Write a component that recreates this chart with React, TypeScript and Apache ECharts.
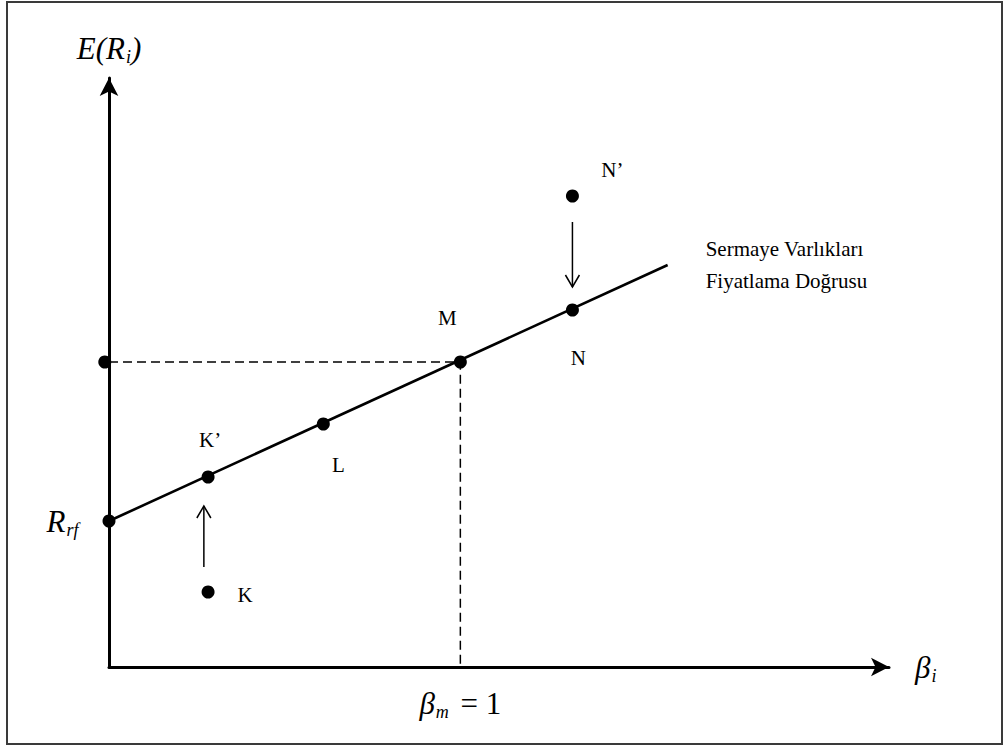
import React, { useEffect, useRef } from "react";
import * as echarts from "echarts";

// Points of the Security Market Line diagram (x = beta, y = expected return)
const rfPoint = [0, 1.46];
const smlEnd = [1.59, 4.02];
const onLinePoints = [
  { name: "K’", value: [0.282, 1.9] },
  { name: "L", value: [0.61, 2.43] },
  { name: "M", value: [1, 3.05] },
  { name: "N", value: [1.319, 3.57] },
];
const offLinePoints = [
  { name: "K", value: [0.282, 0.75] },
  { name: "N’", value: [1.319, 4.71] },
];
const guideDot = [-0.012, 3.05];
const guidePath = [
  [0, 3.05],
  [1, 3.05],
  [1, 0],
];
// arrows: [x0, y0, x1, y1]
const moveArrows = [
  [0.27, 1.0, 0.27, 1.61],
  [1.319, 4.45, 1.319, 3.8],
];
const smlLabel = "Sermaye Varlıkları\nFiyatlama Doğrusu";
const betaMarket = 1;

const SERIF = "'Liberation Serif', 'Times New Roman', serif";

const labelOffsets: Record<string, number[]> = {
  "K’": [2, -37],
  L: [15, 41],
  M: [-13, -44],
  N: [6, 48],
  K: [37, 3],
  "N’": [40, -26],
};

export default function App() {
  const ref = useRef<HTMLDivElement>(null);
  useEffect(() => {
    if (!ref.current) return;
    const chart = echarts.init(ref.current, null, { renderer: "svg" });
    const ptLabel = (name: string) => ({
      show: true,
      formatter: name,
      position: "inside" as const,
      offset: labelOffsets[name],
      color: "#000",
      fontFamily: SERIF,
      fontSize: 21,
    });
    const italicMain = { fontFamily: SERIF, fontStyle: "italic", fontSize: 31, color: "#000", lineHeight: 36 };
    const italicSub = {
      fontFamily: SERIF,
      fontStyle: "italic",
      fontSize: 18,
      color: "#000",
      verticalAlign: "bottom",
      lineHeight: 36,
      padding: [10, 0, 0, 1],
    };
    chart.setOption({
      animation: false,
      backgroundColor: "#fff",
      grid: { left: 109, top: 78, width: 780, height: 589, containLabel: false },
      xAxis: {
        type: "value",
        min: 0,
        max: 2.22,
        interval: 1,
        splitLine: { show: false },
        axisTick: { show: false },
        axisLine: {
          show: true,
          onZero: false,
          lineStyle: { color: "#000", width: 3 },
          symbol: ["none", "arrow"],
          symbolSize: [14, 18],
        },
        axisLabel: {
          show: true,
          margin: 18,
          formatter: (v: number) => (v === betaMarket ? "{b|β}{s|m}{e| = 1}" : ""),
          rich: {
            b: italicMain,
            s: italicSub,
            e: { fontFamily: SERIF, fontSize: 31, color: "#000", lineHeight: 36, padding: [0, 0, 0, 4] },
          },
        },
        name: "{b|β}{s|i}",
        nameLocation: "end",
        nameGap: 26,
        nameTextStyle: { rich: { b: italicMain, s: italicSub } },
      },
      yAxis: {
        type: "value",
        min: 0,
        max: 5.89,
        splitLine: { show: false },
        axisTick: { show: false },
        axisLabel: { show: false },
        axisLine: {
          show: true,
          onZero: false,
          lineStyle: { color: "#000", width: 3 },
          symbol: ["none", "arrow"],
          symbolSize: [14, 18],
        },
        name: "{b|E}{b|(}{b|R}{s|i}{b|)}",
        nameLocation: "end",
        nameGap: 12,
        nameTextStyle: { rich: { b: italicMain, s: italicSub } },
      },
      graphic: [
        {
          type: "rect",
          shape: { x: 7, y: 2, width: 995, height: 742 },
          style: { fill: "none", stroke: "#3a3a3a", lineWidth: 2 },
          silent: true,
        },
      ],
      series: [
        {
          type: "line",
          data: guidePath,
          symbol: "none",
          lineStyle: { color: "#000", width: 1.5, type: [9, 5], opacity: 1 },
          z: 1,
        },
        {
          type: "line",
          data: [rfPoint, smlEnd],
          symbol: "none",
          lineStyle: { color: "#000", width: 2.6, opacity: 1 },
          endLabel: {
            show: true,
            formatter: smlLabel,
            distance: 38,
            color: "#000",
            fontFamily: SERIF,
            fontSize: 21,
            lineHeight: 32,
            align: "left",
          },
          z: 2,
        },
        {
          type: "scatter",
          clip: false,
          symbolSize: 13,
          itemStyle: { color: "#000", opacity: 1 },
          data: [
            {
              value: rfPoint,
              label: {
                show: true,
                position: "left",
                distance: 24,
                formatter: "{b|R}{s|rf}",
                rich: { b: italicMain, s: italicSub },
              },
            },
            ...onLinePoints.map((p) => ({ value: p.value, label: ptLabel(p.name) })),
            ...offLinePoints.map((p) => ({ value: p.value, label: ptLabel(p.name) })),
            { value: guideDot },
          ],
          z: 3,
        },
        {
          type: "custom",
          clip: false,
          data: moveArrows,
          encode: { x: [0, 2], y: [1, 3] },
          renderItem: (params: any, api: any) => {
            const p0 = api.coord([api.value(0), api.value(1)]);
            const p1 = api.coord([api.value(2), api.value(3)]);
            const dx = p1[0] - p0[0];
            const dy = p1[1] - p0[1];
            const len = Math.sqrt(dx * dx + dy * dy) || 1;
            const ux = dx / len;
            const uy = dy / len;
            const hl = 12;
            const hw = 7;
            const bx = p1[0] - ux * hl;
            const by = p1[1] - uy * hl;
            const px = -uy;
            const py = ux;
            return {
              type: "group",
              children: [
                {
                  type: "line",
                  shape: { x1: p0[0], y1: p0[1], x2: p1[0], y2: p1[1] },
                  style: { stroke: "#000", lineWidth: 1.5 },
                },
                {
                  type: "polyline",
                  shape: {
                    points: [
                      [bx + px * hw, by + py * hw],
                      [p1[0], p1[1]],
                      [bx - px * hw, by - py * hw],
                    ],
                  },
                  style: { stroke: "#000", fill: "none", lineWidth: 1.5 },
                },
              ],
            };
          },
          z: 3,
        },
      ],
    });
    return () => chart.dispose();
  }, []);
  return (
    <div
      ref={ref}
      style={{ position: "absolute", left: 0, top: 0, width: 1004, height: 747, background: "#fff" }}
    />
  );
}
